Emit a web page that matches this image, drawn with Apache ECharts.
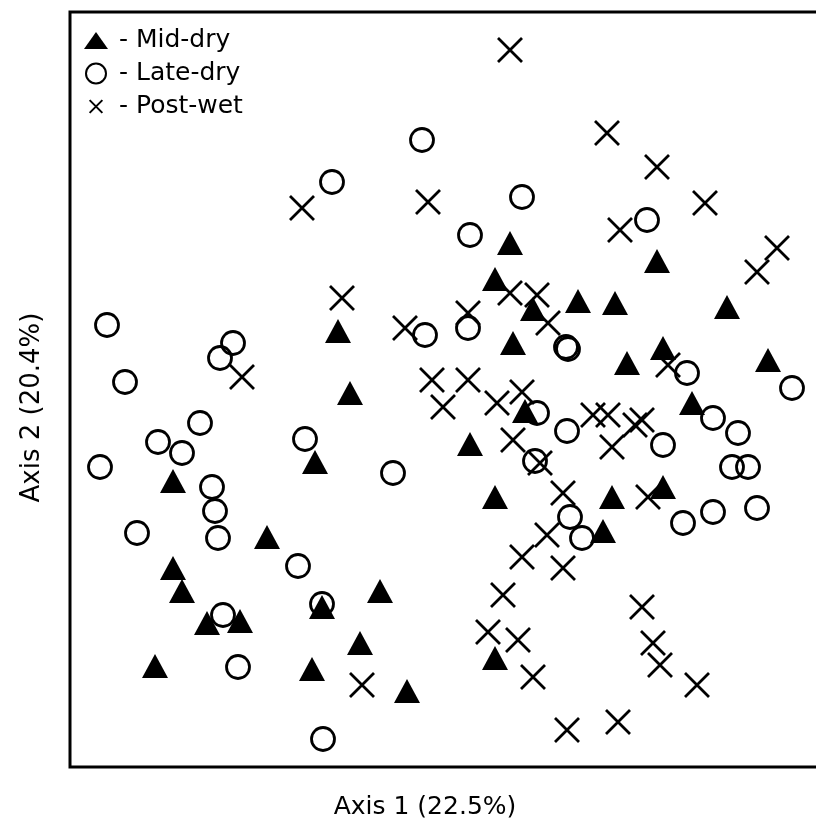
<!DOCTYPE html>
<html>
<head>
<meta charset="utf-8">
<script src="https://cdn.jsdelivr.net/npm/echarts@6/dist/echarts.min.js"></script>
<style>
  html, body { margin: 0; padding: 0; background: #fff; }
  #chart { width: 816px; height: 821px; }
</style>
</head>
<body>
<div id="chart"></div>
<script>
// Ordination scores (Axis 1, Axis 2) for each sampling season
const midDry = [
  [4.40, 5.24], [4.25, 4.88], [5.87, 5.06], [5.08, 4.66], [5.45, 4.64],
  [6.57, 4.60], [4.63, 4.58], [2.68, 4.36], [4.43, 4.24], [5.93, 4.19],
  [5.57, 4.04], [6.98, 4.07], [2.80, 3.74], [6.22, 3.64], [4.55, 3.56],
  [4.00, 3.23], [2.45, 3.05], [1.03, 2.86], [4.25, 2.70], [5.93, 2.80],
  [5.42, 2.70], [5.33, 2.36], [1.97, 2.30], [1.03, 1.99], [1.12, 1.76],
  [1.37, 1.44], [1.70, 1.46], [2.52, 1.60], [3.10, 1.76], [2.90, 1.24],
  [0.85, 1.01], [2.42, 0.98], [3.37, 0.76], [4.25, 1.09]
];

const lateDry = [
  [3.52, 6.27], [2.62, 5.85], [4.52, 5.70], [4.00, 5.32], [5.77, 5.47],
  [0.37, 4.42], [1.63, 4.24], [1.50, 4.09], [3.55, 4.32], [3.98, 4.39],
  [4.98, 4.18], [4.96, 4.20], [0.55, 3.85], [6.17, 3.94], [7.22, 3.79],
  [4.67, 3.54], [1.30, 3.44], [6.43, 3.49], [0.88, 3.25], [1.12, 3.14],
  [2.35, 3.28], [6.68, 3.34], [4.97, 3.36], [0.30, 3.00], [5.93, 3.22],
  [6.62, 3.00], [6.78, 3.00], [4.65, 3.06], [3.23, 2.94], [1.42, 2.80],
  [1.45, 2.56], [5.00, 2.50], [5.12, 2.29], [6.13, 2.44], [6.43, 2.55],
  [6.87, 2.59], [0.67, 2.34], [1.48, 2.29], [2.28, 2.01], [1.53, 1.52],
  [2.52, 1.63], [1.68, 1.00], [2.53, 0.28]
];

const postWet = [
  [4.40, 7.17], [5.37, 6.34], [5.87, 6.00], [3.58, 5.65], [6.35, 5.64],
  [2.32, 5.59], [5.50, 5.37], [7.07, 5.19], [6.87, 4.95], [2.72, 4.69],
  [4.40, 4.74], [4.67, 4.72], [3.98, 4.54], [4.78, 4.44], [3.35, 4.39],
  [1.72, 3.90], [5.98, 4.02], [3.62, 3.87], [3.98, 3.87], [4.27, 3.64],
  [4.52, 3.75], [3.73, 3.60], [5.23, 3.52], [5.38, 3.52], [5.65, 3.42],
  [5.72, 3.47], [4.43, 3.27], [5.42, 3.20], [4.70, 3.04], [4.93, 2.74],
  [5.78, 2.70], [4.77, 2.32], [4.52, 2.10], [4.93, 1.99], [4.33, 1.72],
  [5.72, 1.60], [4.18, 1.35], [4.48, 1.27], [5.83, 1.24], [5.90, 1.02],
  [4.63, 0.90], [2.92, 0.82], [6.27, 0.82], [5.48, 0.45], [4.97, 0.37]
];

const seasonNames = ['Mid-dry', 'Late-dry', 'Post-wet'];
const axisTitles = ['Axis 1 (22.5%)', 'Axis 2 (20.4%)'];

const CROSS = 'path://M0,0L10,10M10,0L0,10';
const FONT = 'DejaVu Sans';

const chart = echarts.init(document.getElementById('chart'), null, { renderer: 'canvas' });

chart.setOption({
  animation: false,
  backgroundColor: '#fff',
  grid: {
    left: 70, top: 12, bottom: 54, right: -4,
    outerBoundsMode: 'none', containLabel: false,
    show: true, borderColor: '#000', borderWidth: 3,
    backgroundColor: 'transparent'
  },
  xAxis: {
    type: 'value', min: 0, max: 7.5,
    name: axisTitles[0], nameLocation: 'middle', nameGap: 28,
    nameTextStyle: { fontFamily: FONT, fontSize: 25, color: '#000', padding: [0, 40, 0, 0] },
    axisLine: { show: false }, axisTick: { show: false },
    axisLabel: { show: false }, splitLine: { show: false }
  },
  yAxis: {
    type: 'value', min: 0, max: 7.55,
    name: axisTitles[1], nameLocation: 'middle', nameGap: 25,
    nameTextStyle: { fontFamily: FONT, fontSize: 26, color: '#000', padding: [0, 36, 0, 0] },
    axisLine: { show: false }, axisTick: { show: false },
    axisLabel: { show: false }, splitLine: { show: false }
  },
  legend: {
    orient: 'vertical', left: 84, top: 28, padding: 0,
    itemWidth: 24, itemHeight: 20, itemGap: 8,
    selectedMode: false,
    formatter: name => '- ' + name,
    textStyle: { fontFamily: FONT, fontSize: 25, color: '#000', padding: [0, 0, 0, 6] },
    data: [
      { name: seasonNames[0], icon: 'path://M0,17L12,0L24,17Z',
        itemStyle: { color: '#000', borderWidth: 0 } },
      { name: seasonNames[1], icon: 'circle',
        itemStyle: { color: 'transparent', borderColor: '#000', borderWidth: 2 } },
      { name: seasonNames[2], icon: 'path://M-4,-4M0,0L14,14M14,0L0,14M18,18',
        itemStyle: { color: 'transparent', borderColor: '#000', borderWidth: 2 } }
    ]
  },
  series: [
    {
      name: seasonNames[1], type: 'scatter', data: lateDry, z: 2,
      symbol: 'circle', symbolSize: 23,
      itemStyle: { color: 'transparent', borderColor: '#000', borderWidth: 2.8, opacity: 1 },
      emphasis: { disabled: true }
    },
    {
      name: seasonNames[0], type: 'scatter', data: midDry, z: 3,
      symbol: 'triangle', symbolSize: [26, 24],
      itemStyle: { color: '#000', borderWidth: 0, opacity: 1 },
      emphasis: { disabled: true }
    },
    {
      name: seasonNames[2], type: 'scatter', data: postWet, z: 4,
      symbol: CROSS, symbolSize: 24,
      itemStyle: { color: 'transparent', borderColor: '#000', borderWidth: 2.8, opacity: 1 },
      emphasis: { disabled: true }
    }
  ]
});
</script>
</body>
</html>
